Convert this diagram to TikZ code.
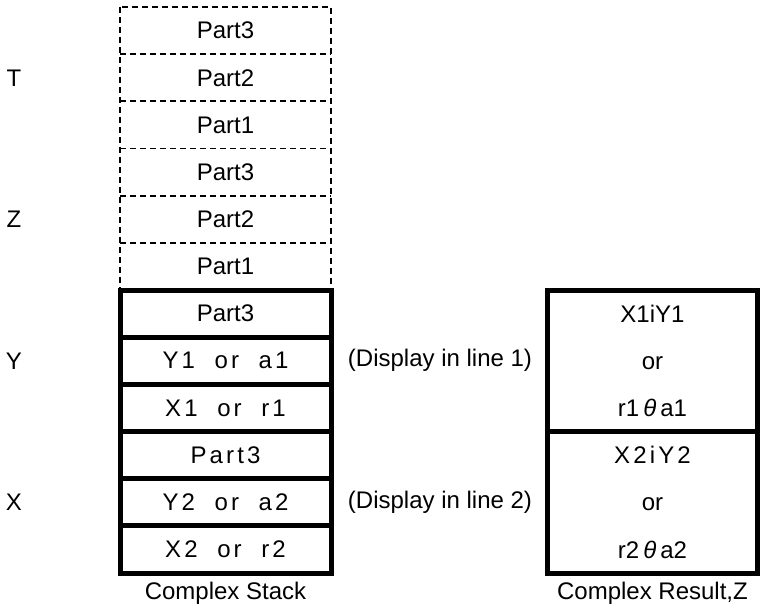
\documentclass[tikz,border=0pt]{standalone}
\usepackage{fontspec}
\setmainfont{Liberation Sans}
\newfontfamily\spaced[LetterSpace=13]{Liberation Sans}
\usetikzlibrary{positioning}

\begin{document}
\begin{tikzpicture}[x=1pt,y=-1pt,every node/.style={font=\fontsize{24}{28}\selectfont},
  cell/.style={minimum width=211pt,minimum height=47.17pt,inner sep=0pt,outer sep=0pt},
  solidcell/.style={cell,draw,line width=5pt},
  resbox/.style={solidcell,minimum width=210pt,minimum height=141.5pt,align=center,
    font=\fontsize{24}{47.17}\selectfont},
  dashline/.style={line width=1.8pt,dash pattern=on 6pt off 4pt}]
\useasboundingbox (0,0) rectangle (761,612);
% dashed part of the stack
\foreach \txt [count=\i] in {Part3,Part2,Part1,Part3,Part2,Part1}
  \node[cell] (d\i) at (225.5,{7+47.17*(\i-0.5)}) {\txt};
\draw[dashline] (d1.north west) rectangle (d6.south east);
\foreach \i in {1,...,5}
  \draw[dashline] (d\i.south west) -- (d\i.south east);
% solid part of the stack
\node[solidcell] (s1) at (225.5,{7+47.17*6.5}) {Part3};
\node[solidcell,below=0pt of s1] (s2) {{\spaced Y1\ \ or\ \ a1}};
\node[solidcell,below=0pt of s2] (s3) {{\spaced X1\ \ or\ \ r1}};
\node[solidcell,below=0pt of s3] (s4) {{\spaced Part3}};
\node[solidcell,below=0pt of s4] (s5) {{\spaced Y2\ \ or\ \ a2}};
\node[solidcell,below=0pt of s5] (s6) {{\spaced X2\ \ or\ \ r2}};
% register names
\node (regT) at (14,{7+47.17*1.5}) {T};
\node (regZ) at (14,{7+47.17*4.5}) {Z};
\node (regY) at (14,{7+47.17*7.5}) {Y};
\node (regX) at (14,{7+47.17*10.5}) {X};
\node (disp1) at (440,{7+47.17*7.5}) {(Display in line 1)};
\node (disp2) at (440,{7+47.17*10.5}) {(Display in line 2)};
% result
\node[resbox] (res1) at (652.5,{7+47.17*7.5}) {X1iY1\\or\\r1\,{\itshape θ}\,a1};
\node[resbox] (res2) at (652.5,{7+47.17*10.5}) {{\spaced X2iY2}\\or\\r2\,{\itshape θ}\,a2};
\node (capstack) at (225.5,593) {Complex Stack};
\node (capres) at (652.5,593) {Complex Result,Z};
\end{tikzpicture}
\end{document}
